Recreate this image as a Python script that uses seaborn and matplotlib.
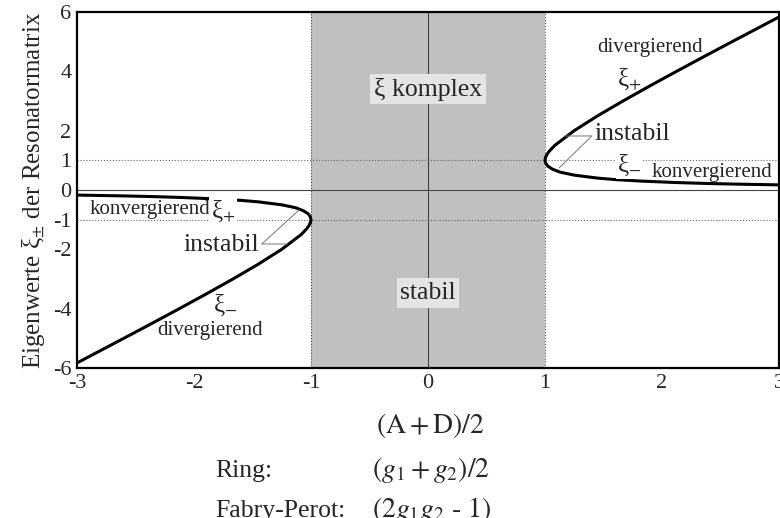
import matplotlib
matplotlib.use("Agg")
import matplotlib.pyplot as plt
import seaborn as sns

X_TICKS = [-3, -2, -1, 0, 1, 2, 3]
Y_TICKS = [6, 4, 2, 1, 0, -1, -2, -4, -6]
X_MINOR = [-2, 2]
Y_MINOR = [-4, -2, 2, 4]

# eigenvalue branches (xi_- end -> turning point -> xi_+ end)
RIGHT_X = [3.0, 2.6, 2.38, 2.125, 1.82, 1.6, 1.45, 1.25, 1.13, 1.065, 1.025, 1.006, 1.0,
           1.005, 1.017, 1.035, 1.083, 1.25, 1.45, 1.667, 1.893, 2.125, 2.361, 2.6, 2.841, 3.0]
RIGHT_Y = [0.172, 0.2, 0.22, 0.25, 0.3, 0.35, 0.4, 0.5, 0.6, 0.7, 0.8, 0.9, 1.0,
           1.1, 1.2, 1.3, 1.5, 2.0, 2.5, 3.0, 3.5, 4.0, 4.5, 5.0, 5.5, 5.83]
LEFT_X = [-3.0, -2.6, -2.38, -2.125, -1.82, -1.6, -1.45, -1.25, -1.13, -1.065, -1.025, -1.006, -1.0,
          -1.005, -1.017, -1.035, -1.083, -1.25, -1.45, -1.667, -1.893, -2.125, -2.361, -2.6, -2.841, -3.0]
LEFT_Y = [-0.172, -0.2, -0.22, -0.25, -0.3, -0.35, -0.4, -0.5, -0.6, -0.7, -0.8, -0.9, -1.0,
          -1.1, -1.2, -1.3, -1.5, -2.0, -2.5, -3.0, -3.5, -4.0, -4.5, -5.0, -5.5, -5.83]

STABLE_RANGE = (-1, 1)

sns.set_style("ticks")
plt.rcParams["font.family"] = ["Liberation Serif", "DejaVu Serif"]
plt.rcParams["mathtext.fontset"] = "stix"
plt.rcParams["axes.unicode_minus"] = False

fig = plt.figure(figsize=(7.8, 5.18), dpi=100)
ax = fig.add_axes([0.0987, 0.2896, 0.9, 0.6873])

ax.axvspan(*STABLE_RANGE, color="#c0c0c0", lw=0, zorder=0)
for v in STABLE_RANGE:
    ax.axvline(v, color="#555555", ls=":", lw=0.8, zorder=1)
    ax.axhline(v, color="#666666", ls=":", lw=0.8, zorder=1)
ax.axhline(0, color="#444444", lw=0.8, zorder=1)
ax.axvline(0, color="#444444", lw=0.8, zorder=1)

for xs, ys in [(RIGHT_X, RIGHT_Y), (LEFT_X, LEFT_Y)]:
    sns.lineplot(x=xs, y=ys, sort=False, estimator=None, color="black", lw=2.2, ax=ax, zorder=3)

ax.set_xlim(-3, 3)
ax.set_ylim(-6, 6)
ax.set_xticks(X_TICKS)
ax.set_yticks(Y_TICKS)
ax.set_xticks(X_MINOR, minor=True)
ax.set_yticks(Y_MINOR, minor=True)
ax.tick_params(which="major", length=0, labelsize=16, pad=4)
ax.tick_params(which="minor", direction="in", length=9.5, width=0.8, color="#444444",
               top=True, right=True, bottom=True, left=True)
for s in ax.spines.values():
    s.set_linewidth(1.6)
    s.set_color("black")
ax.set_ylabel(r"Eigenwerte ξ$_{\pm}$ der Resonatormatrix", fontsize=18, labelpad=4)

box = dict(facecolor="#e4e4e4", edgecolor="none", pad=2.5)
white = dict(facecolor="white", edgecolor="none", pad=1)
ax.text(0, 3.4, "ξ komplex", ha="center", va="center", fontsize=18.5, bbox=box)
ax.text(0, -3.47, "stabil", ha="center", va="center", fontsize=18.5, bbox=box)

# right side labels
ax.text(1.9, 4.8, "divergierend", ha="center", va="center", fontsize=15)
ax.text(1.72, 3.75, r"ξ$_{+}$", ha="center", va="center", fontsize=18)
ax.text(1.42, 1.88, "instabil", ha="left", va="center", fontsize=18.5)
ax.text(1.72, 0.85, r"ξ$_{-}$", ha="center", va="center", fontsize=18, bbox=white)
ax.text(2.43, 0.6, "konvergierend", ha="center", va="center", fontsize=15)

# left side labels
ax.text(-2.38, -0.67, "konvergierend", ha="center", va="center", fontsize=15)
ax.text(-1.75, -0.72, r"ξ$_{+}$", ha="center", va="center", fontsize=18, bbox=white)
ax.text(-1.44, -1.85, "instabil", ha="right", va="center", fontsize=18.5)
ax.text(-1.73, -3.9, r"ξ$_{-}$", ha="center", va="center", fontsize=18)
ax.text(-1.86, -4.72, "divergierend", ha="center", va="center", fontsize=15)

lead = dict(arrowstyle="-", color="#777777", lw=0.7, shrinkA=0, shrinkB=0)
for src, dst in [((1.40, 1.82), (1.17, 1.82)), ((1.40, 1.82), (1.12, 0.74)),
                 ((-1.42, -1.82), (-1.2, -1.82)), ((-1.42, -1.82), (-1.10, -0.67))]:
    ax.annotate("", xy=dst, xytext=src, arrowprops=lead)

fig.text(0.551, 0.164, r"$\left(\mathrm{A} + \mathrm{D}\right)/2$", ha="center", va="baseline", fontsize=20)
fig.text(0.276, 0.079, "Ring:", ha="left", va="baseline", fontsize=18.5)
fig.text(0.477, 0.079, r"$\left(g_1 + g_2\right)/2$", ha="left", va="baseline", fontsize=20)
fig.text(0.276, 0.002, "Fabry-Perot:", ha="left", va="baseline", fontsize=18.5)
fig.text(0.477, 0.002, r"$\left(2g_1g_2\ \text{-}\ 1\right)$", ha="left", va="baseline", fontsize=20)

fig.savefig("out.png", dpi=100)
